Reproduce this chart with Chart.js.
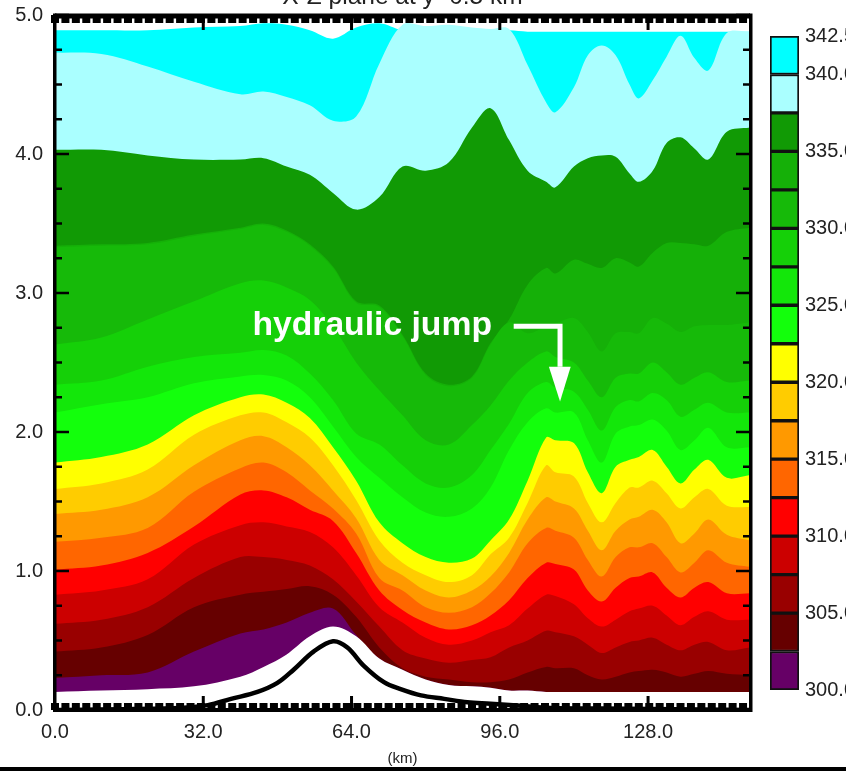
<!DOCTYPE html>
<html>
<head>
    <title>X-Z plane at y=0.5 km</title>
    <script src="https://cdn.jsdelivr.net/npm/chart.js"></script>
    <style>
        body { margin: 0; background: #fff; overflow: hidden; width: 846px; height: 771px; position: relative; }
        #section-chart { position: absolute; left: 0; top: -20px; }
        #colorbar-chart { position: absolute; left: 760px; top: 0; }
        #bottom-strip { position: absolute; left: 0; top: 767px; width: 846px; height: 4px; background: #000; }
    </style>
</head>
<body>
    <canvas id="section-chart" width="846" height="791"></canvas>
    <canvas id="colorbar-chart" width="140" height="771"></canvas>
    <div id="bottom-strip"></div>

    <script>
        // distance along the section (km)
        const xs = [0,10,20,30,40,45,50,55,60,65,70,75,80,85,90,94,98,102,106,108,112,115,118,121,124,126,129,132,135,138,141,145,150];

        // height (km) of each potential temperature level
        const th3425 = [4.89,4.89,4.89,4.91,4.92,4.94,4.93,4.89,4.83,4.91,4.94,4.89,4.89,4.89,4.89,4.89,4.89,4.88,4.88,4.88,4.88,4.88,4.88,4.88,4.88,4.88,4.88,4.88,4.88,4.88,4.88,4.88,4.88];
        const th340 = [4.73,4.72,4.63,4.52,4.43,4.45,4.41,4.35,4.24,4.27,4.65,4.93,4.92,4.93,4.91,4.90,4.90,4.64,4.37,4.30,4.48,4.71,4.78,4.71,4.50,4.40,4.53,4.70,4.85,4.69,4.60,4.87,4.88];
        const th3375 = [4.03,4.03,3.99,3.96,3.96,3.97,3.91,3.85,3.72,3.60,3.69,3.91,3.88,3.94,4.19,4.33,4.10,3.88,3.80,3.76,3.91,3.97,3.99,3.98,3.86,3.80,3.88,4.08,4.12,4.04,3.96,4.16,4.19];
        const th335 = [3.34,3.35,3.36,3.42,3.47,3.50,3.45,3.35,3.19,2.94,2.91,2.70,2.42,2.34,2.40,2.64,2.81,3.06,3.18,3.14,3.24,3.21,3.18,3.25,3.22,3.19,3.29,3.36,3.36,3.35,3.34,3.44,3.47];
        const th3325 = [3.33,3.34,3.35,3.41,3.46,3.49,3.44,3.34,3.18,2.93,2.90,2.69,2.41,2.33,2.39,2.63,2.79,2.71,2.76,2.78,2.82,2.72,2.58,2.71,2.72,2.71,2.82,2.78,2.72,2.76,2.77,2.77,2.79];
        const th330 = [2.63,2.68,2.81,2.94,3.07,3.09,3.04,2.95,2.76,2.50,2.30,2.12,1.94,1.91,2.05,2.19,2.37,2.50,2.58,2.54,2.50,2.37,2.25,2.39,2.42,2.42,2.50,2.43,2.34,2.39,2.43,2.36,2.37];
        const th3275 = [2.34,2.37,2.47,2.54,2.57,2.59,2.55,2.42,2.23,1.99,1.91,1.76,1.63,1.60,1.69,1.87,2.06,2.28,2.36,2.32,2.29,2.16,2.01,2.18,2.23,2.22,2.28,2.23,2.11,2.16,2.21,2.14,2.14];
        const th325 = [2.14,2.20,2.25,2.35,2.40,2.41,2.37,2.25,2.04,1.82,1.67,1.53,1.42,1.39,1.45,1.60,1.87,2.07,2.17,2.14,2.14,1.94,1.78,1.99,2.04,2.05,2.09,2.01,1.87,1.94,2.03,1.89,1.89];
        const th3225 = [1.78,1.82,1.91,2.12,2.25,2.27,2.21,2.10,1.89,1.65,1.35,1.20,1.10,1.06,1.09,1.22,1.37,1.65,1.96,1.94,1.92,1.71,1.56,1.75,1.80,1.82,1.87,1.75,1.63,1.73,1.80,1.67,1.69];
        const th320 = [1.59,1.63,1.73,1.98,2.12,2.14,2.07,1.96,1.76,1.51,1.22,1.06,0.97,0.92,0.97,1.12,1.24,1.49,1.76,1.71,1.68,1.49,1.35,1.49,1.60,1.60,1.65,1.56,1.45,1.53,1.59,1.47,1.46];
        const th3175 = [1.41,1.44,1.53,1.76,1.94,1.97,1.89,1.76,1.58,1.38,1.08,0.97,0.86,0.81,0.86,0.96,1.13,1.37,1.53,1.50,1.45,1.29,1.15,1.29,1.37,1.39,1.44,1.35,1.20,1.27,1.37,1.26,1.22];
        const th315 = [1.21,1.24,1.31,1.57,1.74,1.78,1.71,1.58,1.45,1.27,0.95,0.86,0.74,0.70,0.74,0.84,0.99,1.20,1.31,1.29,1.24,1.08,0.96,1.10,1.17,1.17,1.20,1.10,0.99,1.06,1.15,1.06,1.03];
        const th3125 = [1.01,1.04,1.13,1.32,1.55,1.58,1.53,1.44,1.36,1.13,0.86,0.72,0.63,0.58,0.61,0.68,0.79,0.95,1.06,1.05,1.01,0.86,0.78,0.88,0.95,0.96,0.99,0.88,0.81,0.88,0.92,0.84,0.84];
        const th310 = [0.83,0.86,0.94,1.19,1.33,1.35,1.32,1.28,1.17,0.97,0.74,0.63,0.52,0.47,0.50,0.56,0.61,0.73,0.83,0.82,0.76,0.66,0.60,0.65,0.71,0.73,0.75,0.68,0.61,0.67,0.71,0.65,0.65];
        const th3075 = [0.62,0.65,0.74,0.95,1.10,1.10,1.08,1.04,0.94,0.78,0.60,0.43,0.37,0.34,0.36,0.38,0.45,0.50,0.57,0.56,0.53,0.47,0.41,0.45,0.49,0.50,0.52,0.47,0.43,0.47,0.49,0.43,0.45];
        const th305 = [0.42,0.45,0.54,0.74,0.83,0.85,0.87,0.89,0.83,0.67,0.45,0.30,0.24,0.22,0.20,0.20,0.22,0.27,0.31,0.30,0.30,0.25,0.22,0.24,0.27,0.28,0.29,0.27,0.24,0.26,0.28,0.26,0.25];
        const th3025 = [0.23,0.25,0.27,0.42,0.55,0.58,0.63,0.70,0.73,0.54,0.37,0.29,0.22,0.18,0.17,0.16,0.14,0.14,0.13,0.13,0.13,0.13,0.13,0.13,0.13,0.13,0.13,0.13,0.13,0.13,0.13,0.13,0.13];
        const th300 = [0.13,0.14,0.15,0.17,0.24,0.31,0.40,0.53,0.60,0.53,0.37,0.29,0.22,0.18,0.17,0.16,0.14,0.14,0.13,0.13,0.13,0.13,0.13,0.13,0.13,0.13,0.13,0.13,0.13,0.13,0.13,0.13,0.13];

        // the mountain
        const terrainX = [0,27,33,38,43.7,48,51.5,55.8,60,63.1,66.6,71,74.6,79,84,89,94,100.5,107,118,150];
        const terrainZ = [0,0.015,0.035,0.08,0.13,0.195,0.29,0.42,0.495,0.45,0.32,0.2,0.15,0.105,0.08,0.055,0.045,0.03,0.015,0.01,0];

        // colour table, bottom band to top band
        const bandColors = ['#660066','#660000','#990000','#cc0000','#ff0000','#ff6600','#ff9900','#ffcc00','#ffff00','#13ff0c','#13e70a','#15d008','#16ba09','#15b008','#119a05','#aaffff','#00ffff'];
        const bandLevels = [300,302.5,305,307.5,310,312.5,315,317.5,320,322.5,325,327.5,330,332.5,335,337.5,340,342.5];
        const colorbarTicks = [300,305,310,315,320,325,330,335,340,342.5];

        // axis ticks (km)
        const xMajor = [32,64,96,128];
        const xMinorStep = 2.25;
        const zMinorStep = 0.25;

        // annotation, in chart coordinates
        const jumpLabel = 'hydraulic jump';
        const jumpLabelAt = [42.6, 2.70];
        const arrowX = [99, 109, 109];
        const arrowZ = [2.76, 2.76, 2.47];
        const headX = [106.6, 111.3, 109];
        const headZ = [2.47, 2.47, 2.22];

        const tickFont = { family: 'Liberation Sans', size: 20 };

        // top to bottom of the drawing order: first dataset is painted last
        const levels = [th300,th3025,th305,th3075,th310,th3125,th315,th3175,th320,th3225,th325,th3275,th330,th3325,th335,th3375,th340,th3425];
        const levelColors = ['#ffffff'].concat(bandColors);

        function toPoints(x, y) {
            return x.map((v, i) => ({ x: v, y: y[i] }));
        }

        // Axis frame with inward ticks, and the white label and arrow
        const framePlugin = {
            id: 'frame',
            afterDatasetsDraw(chart) {
                const c = chart.ctx;
                const a = chart.chartArea;
                const sx = chart.scales.x;
                const sy = chart.scales.y;
                c.save();
                c.fillStyle = '#000';

                // horizontal axes: thick band, notched by the minor ticks
                for (let k = 0; k <= 150; k += xMinorStep) {
                    const px = sx.getPixelForValue(k);
                    c.fillRect(px - 4, a.top, 8, 8);
                    c.fillRect(px - 4, a.bottom - 7, 8, 7);
                }
                c.fillRect(a.left, a.top - 1.5, a.right - a.left, 5);
                c.fillRect(a.left, a.bottom - 2, a.right - a.left, 4);
                xMajor.forEach(k => {
                    const px = sx.getPixelForValue(k);
                    c.fillRect(px - 1.5, a.top, 3, 15);
                    c.fillRect(px - 1.5, a.bottom - 14, 3, 14);
                });

                // vertical axes
                for (let z = 0; z <= 5; z += zMinorStep) {
                    const py = sy.getPixelForValue(z);
                    const len = Number.isInteger(z) ? 14 : 7;
                    c.fillRect(a.left, py - 1.25, len, 2.5);
                    c.fillRect(a.right - len, py - 1.25, len, 2.5);
                }
                c.fillRect(a.left - 2, a.top - 1.5, 3.5, a.bottom - a.top + 3.5);
                c.fillRect(a.right - 1, a.top - 1.5, 3.5, a.bottom - a.top + 3.5);

                // annotation
                c.fillStyle = '#fff';
                c.strokeStyle = '#fff';
                c.font = 'bold 33.7px "Liberation Sans"';
                c.textBaseline = 'alphabetic';
                c.fillText(jumpLabel, sx.getPixelForValue(jumpLabelAt[0]), sy.getPixelForValue(jumpLabelAt[1]));
                c.lineWidth = 5;
                c.beginPath();
                arrowX.forEach((v, i) => c.lineTo(sx.getPixelForValue(v), sy.getPixelForValue(arrowZ[i])));
                c.stroke();
                c.beginPath();
                headX.forEach((v, i) => c.lineTo(sx.getPixelForValue(v), sy.getPixelForValue(headZ[i])));
                c.closePath();
                c.fill();
                c.restore();
            }
        };

        document.addEventListener("DOMContentLoaded", function () {
            const bandSets = levels.map((lev, i) => ({
                data: toPoints(xs, lev),
                showLine: true,
                fill: 'start',
                backgroundColor: levelColors[i],
                borderWidth: 0,
                pointRadius: 0,
                tension: 0.35,
            }));

            new Chart(document.getElementById('section-chart').getContext('2d'), {
                type: 'scatter',
                data: {
                    datasets: [{
                        data: toPoints(terrainX, terrainZ),
                        showLine: true,
                        fill: false,
                        borderColor: '#000',
                        borderWidth: 4.5,
                        pointRadius: 0,
                        tension: 0.35,
                    }].concat(bandSets),
                },
                plugins: [framePlugin],
                options: {
                    responsive: false,
                    animation: false,
                    layout: { padding: { right: 96, left: 0, top: 0, bottom: 0 } },
                    plugins: {
                        legend: { display: false },
                        tooltip: { enabled: false },
                        title: {
                            display: true,
                            text: 'X-Z plane at y=0.5 km',
                            color: '#222',
                            fullSize: false,
                            font: { family: 'Liberation Sans', size: 24.5, weight: 'normal', lineHeight: 1.2 },
                            padding: { top: 3, bottom: 2.6 },
                        },
                    },
                    scales: {
                        x: {
                            type: 'linear',
                            min: 0,
                            max: 150,
                            afterFit(scale) { scale.height = 61; },
                            grid: { display: false, drawTicks: false },
                            border: { display: false },
                            ticks: {
                                stepSize: 32,
                                includeBounds: false,
                                maxRotation: 0,
                                padding: 10,
                                color: '#222',
                                font: tickFont,
                                callback: v => v.toFixed(1),
                            },
                            title: {
                                display: true,
                                text: '(km)',
                                color: '#222',
                                font: { family: 'Liberation Sans', size: 15 },
                                padding: { top: 0, bottom: 3 },
                            },
                        },
                        y: {
                            min: 0,
                            max: 5,
                            afterFit(scale) { scale.width = 55; },
                            grid: { display: false, drawTicks: false },
                            border: { display: false },
                            ticks: {
                                stepSize: 1,
                                padding: 12,
                                color: '#222',
                                font: tickFont,
                                callback: v => v.toFixed(1),
                            },
                        },
                    },
                },
            });

            // Colour bar
            new Chart(document.getElementById('colorbar-chart').getContext('2d'), {
                type: 'bar',
                data: {
                    labels: ['theta'],
                    datasets: bandColors.map((col, i) => ({
                        data: [[bandLevels[i], bandLevels[i + 1]]],
                        backgroundColor: col,
                        borderColor: '#111',
                        borderWidth: 2,
                        borderSkipped: false,
                        grouped: false,
                        barPercentage: 1,
                        categoryPercentage: 1,
                    })),
                },
                options: {
                    responsive: false,
                    animation: false,
                    layout: { padding: { left: 10, top: 36, bottom: 81, right: 0 } },
                    plugins: { legend: { display: false }, tooltip: { enabled: false } },
                    scales: {
                        x: { display: false },
                        y: {
                            position: 'right',
                            min: 300,
                            max: 342.5,
                            afterFit(scale) { scale.width = 101; },
                            afterBuildTicks(scale) { scale.ticks = colorbarTicks.map(v => ({ value: v })); },
                            grid: { display: false, drawTicks: false },
                            border: { display: false },
                            ticks: {
                                padding: 6,
                                color: '#222',
                                font: tickFont,
                                callback: v => v.toFixed(1),
                            },
                        },
                    },
                },
            });
        });
    </script>
</body>
</html>
